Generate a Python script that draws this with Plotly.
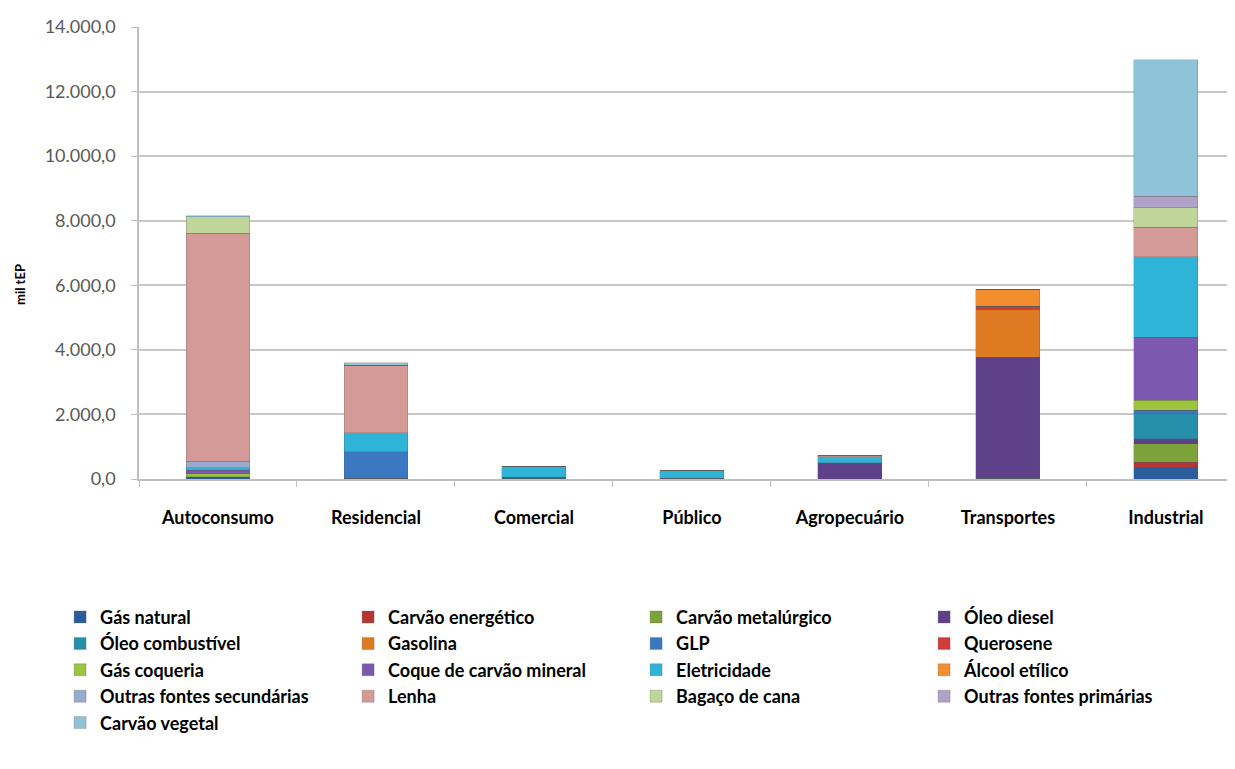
import plotly.graph_objects as go

categories = ["Autoconsumo", "Residencial", "Comercial", "Público", "Agropecuário", "Transportes", "Industrial"]

series_names = [
    "Gás natural", "Carvão energético", "Carvão metalúrgico", "Óleo diesel",
    "Óleo combustível", "Gasolina", "GLP", "Querosene",
    "Gás coqueria", "Coque de carvão mineral", "Eletricidade", "Álcool etílico",
    "Outras fontes secundárias", "Lenha", "Bagaço de cana", "Outras fontes primárias",
    "Carvão vegetal",
]

gas_natural = [70, 20, 0, 0, 0, 30, 360]
carvao_energetico = [0, 0, 0, 0, 0, 0, 155]
carvao_metalurgico = [0, 0, 0, 0, 0, 0, 570]
oleo_diesel = [0, 0, 0, 0, 490, 3740, 155]
oleo_combustivel = [0, 0, 20, 10, 10, 0, 775]
gasolina = [0, 0, 0, 0, 0, 1485, 0]
glp = [0, 820, 30, 10, 0, 0, 120]
querosene = [0, 0, 0, 0, 0, 100, 0]
gas_coqueria = [100, 0, 0, 0, 0, 0, 310]
coque = [100, 0, 0, 0, 0, 0, 1940]
eletricidade = [80, 590, 330, 240, 190, 0, 2500]
alcool_etilico = [0, 0, 0, 0, 0, 520, 0]
outras_secundarias = [200, 0, 0, 0, 0, 0, 0]
lenha = [7060, 2100, 0, 0, 50, 0, 910]
bagaco = [510, 0, 0, 0, 0, 0, 600]
outras_primarias = [0, 0, 0, 0, 0, 0, 360]
carvao_vegetal = [30, 70, 0, 0, 0, 0, 4230]

series_values = [
    gas_natural, carvao_energetico, carvao_metalurgico, oleo_diesel,
    oleo_combustivel, gasolina, glp, querosene,
    gas_coqueria, coque, eletricidade, alcool_etilico,
    outras_secundarias, lenha, bagaco, outras_primarias,
    carvao_vegetal,
]

colors = [
    "#2C5C99", "#B63533", "#7DA23A", "#5E4189",
    "#2690AA", "#DD7A22", "#3C78C2", "#D03C38",
    "#9CC43E", "#7D58B0", "#2EB4D6", "#F28E2E",
    "#98ABCE", "#D49A98", "#BFD59A", "#B0A1C8",
    "#8FC3D8",
]

y_ticks = [0, 2000, 4000, 6000, 8000, 10000, 12000, 14000]

FONT = "Lato"

fig = go.Figure()
for name, vals, col in zip(series_names, series_values, colors):
    fig.add_trace(go.Bar(
        name=name, x=categories, y=vals,
        marker=dict(color=col, line=dict(color="rgba(90,90,90,0.35)", width=0.8)),
    ))

fig.update_layout(
    width=1227, height=761,
    barmode="stack",
    bargap=0.595,
    separators=",.",
    plot_bgcolor="white",
    paper_bgcolor="white",
    margin=dict(l=131, r=0, t=19, b=290, autoexpand=False),
    font=dict(family=FONT, color="#000000"),
    xaxis=dict(
        type="category",
        range=[-0.5, 6.437],
        showline=True, linecolor="#BFBFBF", linewidth=1.5,
        ticks="outside", tickson="boundaries", ticklen=6, tickcolor="#BFBFBF",
        tickfont=dict(family=FONT, size=18, color="#000000", weight="bold"),
        ticklabelstandoff=22,
        showgrid=False,
    ),
    yaxis=dict(
        range=[0, 14000],
        tickvals=y_ticks,
        tickformat=",.1f",
        showline=True, linecolor="#BFBFBF", linewidth=1.5,
        ticks="outside", ticklen=6, tickcolor="#BFBFBF",
        tickfont=dict(family=FONT, size=18, color="#595959"),
        ticklabelstandoff=12,
        showgrid=True, gridcolor="#C8C8C8", gridwidth=1.6,
        zeroline=False,
    ),
    legend=dict(
        orientation="h",
        traceorder="normal",
        x=-0.072, xanchor="left",
        y=-0.265, yanchor="top",
        entrywidth=243,
        font=dict(family=FONT, size=18, color="#000000", weight="bold"),
        itemclick=False, itemdoubleclick=False,
    ),
    showlegend=True,
)

fig.add_annotation(
    text="mil tEP", textangle=-90,
    xref="paper", yref="paper",
    x=(20 - 139) / 1096, y=(479 - 285) / 452,
    xanchor="center", yanchor="middle",
    showarrow=False,
    font=dict(family=FONT, size=13, color="#000000", weight="bold"),
)

fig.write_html("out.html")
